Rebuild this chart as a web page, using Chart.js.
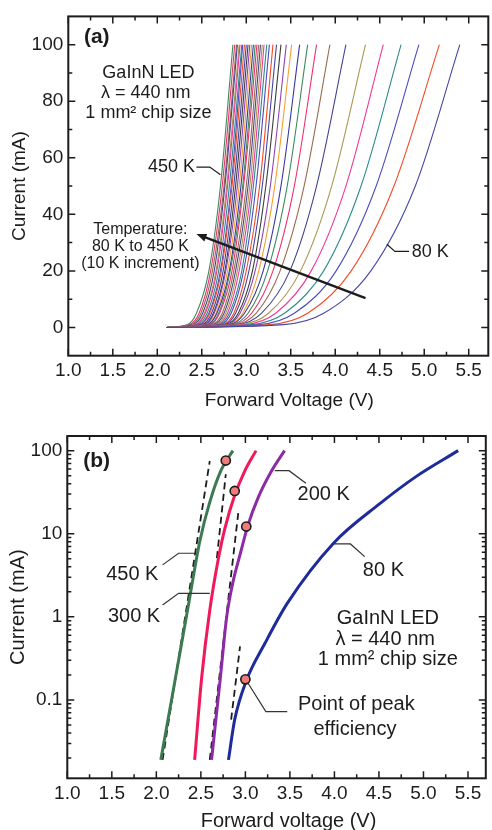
<!DOCTYPE html>
<html>
<head>
<meta charset="utf-8">
<script src="https://cdn.jsdelivr.net/npm/chart.js@4.4.1/dist/chart.umd.min.js"></script>
<style>
  body { margin: 0; background: #fff; }
  .panel { position: absolute; left: 0; }
  #chart-a { top: 0; }
  #chart-b { top: 415px; }
</style>
</head>
<body>
<canvas id="chart-a" class="panel" width="492" height="415"></canvas>
<canvas id="chart-b" class="panel" width="492" height="415"></canvas>
<script>
// ---- panel (a): I-V curves, 80 K to 450 K in 10 K steps ----
const temps = [80, 90, 100, 110, 120, 130, 140, 150, 160, 170, 180, 190, 200, 210, 220, 230, 240, 250, 260,
               270, 280, 290, 300, 310, 320, 330, 340, 350, 360, 370, 380, 390, 400, 410, 420, 430, 440, 450];
const currentLevels = [0, 1, 5, 20, 50, 100];   // mA
const startVoltage = 2.10;                      // every curve starts here at 0 mA
const voltsAt1mA = [3.42, 3.27, 3.15, 3.06, 2.99, 2.94, 2.90, 2.87, 2.85, 2.83, 2.81, 2.80, 2.79, 2.77, 2.75, 2.73, 2.71, 2.69, 2.67,
                    2.65, 2.63, 2.61, 2.59, 2.58, 2.56, 2.55, 2.53, 2.52, 2.50, 2.48, 2.47, 2.45, 2.43, 2.42, 2.40, 2.38, 2.36, 2.34];
const voltsAt5mA = [3.87, 3.69, 3.54, 3.43, 3.33, 3.25, 3.17, 3.11, 3.06, 3.02, 2.98, 2.96, 2.93, 2.91, 2.88, 2.86, 2.83, 2.81, 2.79,
                    2.77, 2.75, 2.73, 2.70, 2.69, 2.67, 2.66, 2.64, 2.63, 2.61, 2.59, 2.58, 2.56, 2.54, 2.53, 2.51, 2.49, 2.47, 2.44];
const voltsAt20mA = [4.40, 4.18, 4.01, 3.87, 3.73, 3.61, 3.49, 3.38, 3.30, 3.24, 3.19, 3.14, 3.10, 3.07, 3.03, 3.00, 2.97, 2.95, 2.92,
                     2.90, 2.88, 2.86, 2.84, 2.82, 2.81, 2.79, 2.77, 2.76, 2.74, 2.72, 2.71, 2.69, 2.67, 2.66, 2.64, 2.62, 2.60, 2.58];
const voltsAt50mA = [4.90, 4.66, 4.46, 4.29, 4.12, 3.96, 3.79, 3.65, 3.54, 3.46, 3.39, 3.32, 3.27, 3.22, 3.18, 3.15, 3.11, 3.08, 3.06,
                     3.04, 3.02, 3.00, 2.97, 2.96, 2.94, 2.92, 2.90, 2.88, 2.86, 2.84, 2.83, 2.81, 2.79, 2.78, 2.76, 2.75, 2.73, 2.71];
const voltsAt100mA = [5.40, 5.17, 4.94, 4.74, 4.54, 4.34, 4.12, 3.94, 3.79, 3.69, 3.60, 3.51, 3.45, 3.39, 3.34, 3.30, 3.26, 3.23, 3.20,
                      3.18, 3.16, 3.14, 3.12, 3.10, 3.08, 3.06, 3.04, 3.02, 3.00, 2.98, 2.96, 2.95, 2.93, 2.92, 2.90, 2.89, 2.87, 2.85];

// ---- panel (b): log plot of four temperatures ----
const v450 = [2.05, 2.20, 2.35, 2.49, 2.60, 2.73, 2.86];
const i450 = [0.019, 0.15, 1.2, 8.3, 24, 59, 100];
const v300 = [2.43, 2.51, 2.60, 2.69, 2.77, 2.88, 2.99, 3.12];
const i300 = [0.019, 0.19, 1.2, 4.6, 11.6, 29, 56, 100];
const v200 = [2.62, 2.72, 2.79, 2.86, 2.94, 3.03, 3.14, 3.29, 3.44];
const i200 = [0.019, 0.19, 1.0, 2.6, 5.6, 12.8, 26.7, 56, 100];
const v80 = [2.81, 2.88, 3.01, 3.22, 3.47, 3.99, 4.51, 4.92, 5.39];
const i80 = [0.019, 0.058, 0.17, 0.48, 1.45, 7.7, 23, 49, 100];
// dashed ideal-diode fits
const fit450V = [2.07, 2.60], fit450I = [0.019, 75];
const fit300V = [2.68, 2.78], fit300I = [5.1, 52];
const fit200V = [2.60, 2.92], fit200I = [0.019, 17.7];
const fit80V = [2.84, 2.94], fit80I = [0.058, 0.44];
// points of peak efficiency (450 K, 300 K, 200 K, 80 K)
const peakV = [2.78, 2.88, 3.01, 3.00];
const peakI = [76, 32.7, 12.2, 0.177];

// ---- ticks ----
const xTicks = [1.0, 1.5, 2.0, 2.5, 3.0, 3.5, 4.0, 4.5, 5.0, 5.5];
const xMinorTicks = [1.25, 1.75, 2.25, 2.75, 3.25, 3.75, 4.25, 4.75, 5.25];
const yTicksA = [0, 20, 40, 60, 80, 100];
const yMinorTicksA = [10, 30, 50, 70, 90];
const yTicksB = [0.1, 1, 10, 100];
const yMinorTicksB = [0.02, 0.03, 0.04, 0.05, 0.06, 0.07, 0.08, 0.09, 0.2, 0.3, 0.4, 0.5, 0.6, 0.7, 0.8, 0.9,
                      2, 3, 4, 5, 6, 7, 8, 9, 20, 30, 40, 50, 60, 70, 80, 90];

const ink = '#1c1c1c';
const fontFamily = '"Liberation Sans", Arial, Helvetica, sans-serif';
Chart.defaults.font.family = fontFamily;
Chart.defaults.color = ink;

const curveColors = ['#4646a6', '#f24a26', '#4c4cc0', '#2e8b8b', '#f0389a', '#a89a50', '#45458f',
                     '#9b6b4e', '#f0306e', '#3e8a60', '#3838a2', '#f4a030', '#8e45b5', '#3c3c3c'];

function fixedTicks(values) {
    return function(scale) {
        scale.ticks = values.map(v => ({value: v}));
    };
}

// box around the plot with inward tick marks on all four sides
function frameTicks(xMajor, xMinor, yMajor, yMinor) {
    return {
        id: 'frameTicks',
        afterDatasetsDraw(chart) {
            const {ctx, chartArea: a} = chart;
            const sx = chart.scales.x, sy = chart.scales.y;
            ctx.save();
            ctx.strokeStyle = ink;
            ctx.lineWidth = 1.5;
            ctx.beginPath();
            const markX = (vals, len) => vals.forEach(v => {
                const p = sx.getPixelForValue(v);
                ctx.moveTo(p, a.bottom); ctx.lineTo(p, a.bottom - len);
                ctx.moveTo(p, a.top); ctx.lineTo(p, a.top + len);
            });
            const markY = (vals, len) => vals.forEach(v => {
                const p = sy.getPixelForValue(v);
                ctx.moveTo(a.left, p); ctx.lineTo(a.left + len, p);
                ctx.moveTo(a.right, p); ctx.lineTo(a.right - len, p);
            });
            markX(xMajor, 7); markX(xMinor, 4);
            markY(yMajor, 7); markY(yMinor, 4);
            ctx.stroke();
            ctx.lineWidth = 2;
            ctx.strokeRect(a.left, a.top, a.right - a.left, a.bottom - a.top);
            ctx.restore();
        }
    };
}

function polyline(ctx, pts) {
    ctx.beginPath();
    ctx.moveTo(pts[0][0], pts[0][1]);
    pts.slice(1).forEach(p => ctx.lineTo(p[0], p[1]));
    ctx.stroke();
}

const annotateA = {
    id: 'annotateA',
    afterDraw(chart) {
        const {ctx, chartArea: a} = chart;
        const p = (v, i) => [chart.scales.x.getPixelForValue(v), chart.scales.y.getPixelForValue(i)];
        ctx.save();
        ctx.fillStyle = ink;
        ctx.strokeStyle = ink;
        ctx.textAlign = 'center';
        ctx.textBaseline = 'middle';

        ctx.font = 'bold 21px ' + fontFamily;
        ctx.fillText('(a)', ...p(1.32, 102.6));

        ctx.font = '18px ' + fontFamily;
        ctx.fillText('GaInN LED', ...p(1.90, 90.0));
        ctx.fillText('\u03bb = 440 nm', ...p(1.87, 83.0));
        ctx.fillText('1 mm\u00b2 chip size', ...p(1.90, 76.0));
        ctx.fillText('450 K', ...p(2.16, 56.9));
        ctx.textAlign = 'left';
        ctx.fillText('80 K', ...p(4.86, 26.8));

        ctx.textAlign = 'center';
        ctx.font = '16px ' + fontFamily;
        ctx.fillText('Temperature:', ...p(1.81, 34.7));
        ctx.fillText('80 K to 450 K', ...p(1.81, 28.6));
        ctx.fillText('(10 K increment)', ...p(1.81, 22.5));

        ctx.lineWidth = 1.2;
        polyline(ctx, [p(2.44, 56.7), p(2.59, 56.7), p(2.71, 54.0)]);
        polyline(ctx, [p(4.58, 29.4), p(4.67, 26.9), p(4.83, 26.9)]);

        // temperature arrow
        const tail = p(4.34, 10.4), head = p(2.44, 33.0);
        const ang = Math.atan2(head[1] - tail[1], head[0] - tail[0]);
        ctx.lineWidth = 2.4;
        polyline(ctx, [tail, [head[0] - 6 * Math.cos(ang), head[1] - 6 * Math.sin(ang)]]);
        ctx.beginPath();
        ctx.moveTo(head[0], head[1]);
        ctx.lineTo(head[0] - 10 * Math.cos(ang) + 4 * Math.sin(ang), head[1] - 10 * Math.sin(ang) - 4 * Math.cos(ang));
        ctx.lineTo(head[0] - 10 * Math.cos(ang) - 4 * Math.sin(ang), head[1] - 10 * Math.sin(ang) + 4 * Math.cos(ang));
        ctx.closePath();
        ctx.fill();

        ctx.font = '19px ' + fontFamily;
        ctx.fillText('Forward Voltage (V)', (a.left + a.right) / 2 + 11, a.bottom + 45);
        ctx.restore();
    }
};

const annotateB = {
    id: 'annotateB',
    afterDraw(chart) {
        const {ctx, chartArea: a} = chart;
        const p = (v, i) => [chart.scales.x.getPixelForValue(v), chart.scales.y.getPixelForValue(i)];
        ctx.save();
        ctx.fillStyle = ink;
        ctx.strokeStyle = '#333';
        ctx.textAlign = 'center';
        ctx.textBaseline = 'middle';

        ctx.font = 'bold 21px ' + fontFamily;
        ctx.fillText('(b)', ...p(1.33, 73.8));

        ctx.font = '20px ' + fontFamily;
        ctx.fillText('200 K', ...p(3.88, 29.3));
        ctx.fillText('80 K', ...p(4.55, 3.66));
        ctx.fillText('450 K', ...p(1.73, 3.19));
        ctx.fillText('300 K', ...p(1.75, 1.0));
        ctx.fillText('GaInN LED', ...p(4.60, 0.944));
        ctx.fillText('\u03bb = 440 nm', ...p(4.57, 0.537));
        ctx.fillText('1 mm\u00b2 chip size', ...p(4.60, 0.309));
        ctx.fillText('efficiency', ...p(4.23, 0.0436));
        ctx.textAlign = 'left';
        ctx.fillText('Point of peak', ...p(3.59, 0.0871));

        ctx.lineWidth = 1.2;
        polyline(ctx, [p(3.33, 57.4), p(3.49, 57.4), p(3.68, 40.6)]);
        polyline(ctx, [p(3.99, 7.53), p(4.18, 7.53), p(4.34, 5.30)]);
        polyline(ctx, [p(2.44, 5.82), p(2.25, 5.82), p(2.07, 4.22)]);
        polyline(ctx, [p(2.60, 1.92), p(2.25, 1.92), p(2.07, 1.39)]);
        polyline(ctx, [p(3.03, 0.159), p(3.23, 0.0723), p(3.47, 0.0723)]);

        ctx.font = '20px ' + fontFamily;
        ctx.textAlign = 'center';
        ctx.fillText('Forward voltage (V)', (a.left + a.right) / 2 + 12, a.bottom + 43);
        ctx.restore();
    }
};

const voltRows = [voltsAt1mA, voltsAt5mA, voltsAt20mA, voltsAt50mA, voltsAt100mA];
const datasetsA = temps.map((t, k) => ({
    label: t + ' K',
    data: currentLevels.map((c, j) => ({x: j === 0 ? startVoltage : voltRows[j - 1][k], y: c})),
    borderColor: curveColors[k % curveColors.length],
    borderWidth: 1.1,
    pointRadius: 0,
    showLine: true,
    cubicInterpolationMode: 'monotone'
}));

new Chart(document.getElementById('chart-a'), {
    type: 'scatter',
    data: {datasets: datasetsA},
    options: {
        responsive: false,
        animation: false,
        layout: {padding: {top: 13.3, right: 3.7, left: 0, bottom: 0}},
        plugins: {legend: {display: false}, tooltip: {enabled: false}},
        scales: {
            x: {
                type: 'linear', min: 1.0, max: 5.72,
                grid: {display: false, drawTicks: false},
                border: {display: false},
                afterBuildTicks: fixedTicks(xTicks),
                afterFit: s => { s.height = 59.3; },
                ticks: {padding: 4, font: {size: 19}, color: ink, callback: v => v.toFixed(1)}
            },
            y: {
                type: 'linear', min: -10, max: 110,
                grid: {display: false, drawTicks: false},
                border: {display: false},
                afterBuildTicks: fixedTicks(yTicksA),
                afterFit: s => { s.width = 68.3; },
                ticks: {padding: 5, font: {size: 19}, color: ink},
                title: {display: true, text: 'Current (mA)', font: {size: 19}, color: ink, padding: {top: 8}}
            }
        }
    },
    plugins: [frameTicks(xTicks, xMinorTicks, yTicksA, yMinorTicksA), annotateA]
});

const pairs = (vs, is) => vs.map((v, k) => ({x: v, y: is[k]}));
const curve = (label, vs, is, color) => ({
    label, data: pairs(vs, is), borderColor: color, borderWidth: 3, pointRadius: 0,
    showLine: true, cubicInterpolationMode: 'monotone', order: 1
});
const fit = (label, vs, is) => ({
    label, data: pairs(vs, is), borderColor: ink, borderWidth: 1.8, borderDash: [7, 4.5],
    pointRadius: 0, showLine: true, order: 2
});

new Chart(document.getElementById('chart-b'), {
    type: 'scatter',
    data: {
        datasets: [
            {label: 'peak efficiency', data: pairs(peakV, peakI), pointRadius: 4.6,
             pointBackgroundColor: '#ef7c7a', pointBorderColor: ink, pointBorderWidth: 1.6, showLine: false, order: 0},
            curve('450 K', v450, i450, '#3d7a52'),
            curve('300 K', v300, i300, '#f2185c'),
            curve('200 K', v200, i200, '#8b2ba6'),
            curve('80 K', v80, i80, '#1f2b99'),
            fit('fit 450 K', fit450V, fit450I),
            fit('fit 300 K', fit300V, fit300I),
            fit('fit 200 K', fit200V, fit200I),
            fit('fit 80 K', fit80V, fit80I)
        ]
    },
    options: {
        responsive: false,
        animation: false,
        layout: {padding: {top: 21, right: 2, left: 0, bottom: 0}},
        plugins: {legend: {display: false}, tooltip: {enabled: false}},
        scales: {
            x: {
                type: 'linear', min: 1.0, max: 5.70,
                grid: {display: false, drawTicks: false},
                border: {display: false},
                afterBuildTicks: fixedTicks(xTicks),
                afterFit: s => { s.height = 51.7; },
                ticks: {padding: 4, font: {size: 19}, color: ink, callback: v => v.toFixed(1)}
            },
            y: {
                type: 'logarithmic', min: 0.0114, max: 150,
                grid: {display: false, drawTicks: false},
                border: {display: false},
                afterBuildTicks: fixedTicks(yTicksB),
                afterFit: s => { s.width = 67.3; },
                ticks: {padding: 5, font: {size: 19}, color: ink, callback: v => String(v)},
                title: {display: true, text: 'Current (mA)', font: {size: 20}, color: ink, padding: {top: 6}}
            }
        }
    },
    plugins: [frameTicks(xTicks, xMinorTicks, yTicksB, yMinorTicksB), annotateB]
});
</script>
</body>
</html>
